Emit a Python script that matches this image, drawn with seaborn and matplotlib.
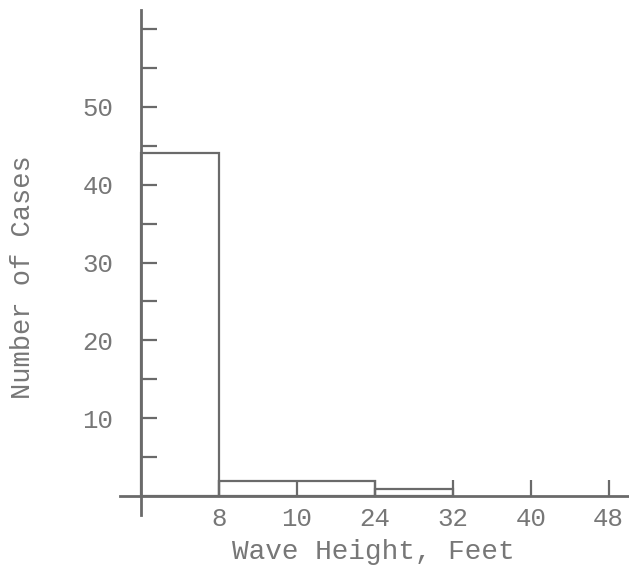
import numpy as np
import pandas as pd
import matplotlib
matplotlib.use("Agg")
import matplotlib.pyplot as plt
import seaborn as sns

# Wave height classes (feet) and number of cases per class
tick_labels = [8, 10, 24, 32, 40, 48]
bin_edges_ft = [0, 8, 24, 32]
counts = [44, 2, 1]

sns.set_style("white")
plt.rcParams["font.family"] = ["Liberation Mono", "DejaVu Sans Mono"]

ink = "#6a6a6a"
text_col = "#777777"

# Axis is drawn with equally spaced class marks, so map feet onto those slots
slot_ft = [0] + tick_labels
slot_pos = np.arange(len(slot_ft))
edge_pos = [float(v) for v in np.interp(bin_edges_ft, slot_ft, slot_pos)]
centers = [(a + b) / 2 for a, b in zip(edge_pos[:-1], edge_pos[1:])]
df = pd.DataFrame({"pos": centers, "cases": counts})

fig = plt.figure(figsize=(6.29, 5.68), dpi=100)
ax = fig.add_axes([120 / 629, 53 / 568, 509 / 629, 505 / 568])

sns.histplot(data=df, x="pos", weights="cases", bins=edge_pos, fill=False,
             element="bars", color=ink, linewidth=1.6, ax=ax)

ax.set_xlim(-0.27, 6.26)
ax.set_ylim(-2.4, 62.4)

for s in ["top", "right"]:
    ax.spines[s].set_visible(False)
for s in ["left", "bottom"]:
    ax.spines[s].set_color(ink)
    ax.spines[s].set_linewidth(2.0)
ax.spines["left"].set_position(("data", 0))
ax.spines["bottom"].set_position(("data", 0))
ax.spines["left"].set_bounds(-2.4, 62.4)

ax.set_xticks(slot_pos[1:])
ax.set_xticklabels([str(t) for t in tick_labels])
ax.set_yticks([10, 20, 30, 40, 50])
ax.set_yticks([5, 15, 25, 35, 45, 55, 60], minor=True)

ax.tick_params(axis="x", bottom=True, direction="in", length=11.5, width=1.6,
               color=ink, labelsize=18.5, labelcolor=text_col, pad=8)
ax.tick_params(axis="y", which="both", left=True, direction="in", length=11.5,
               width=1.6, color=ink, labelsize=18.5, labelcolor=text_col, pad=20)

ax.set_xlabel("Wave Height, Feet", fontsize=20, color=text_col)
ax.set_ylabel("Number of Cases", fontsize=19.5, color=text_col)
ax.xaxis.set_label_coords(0.497, -0.048)
ax.yaxis.set_label_coords(-0.166, 0.471)

fig.savefig("out.png", dpi=100, facecolor="white")
